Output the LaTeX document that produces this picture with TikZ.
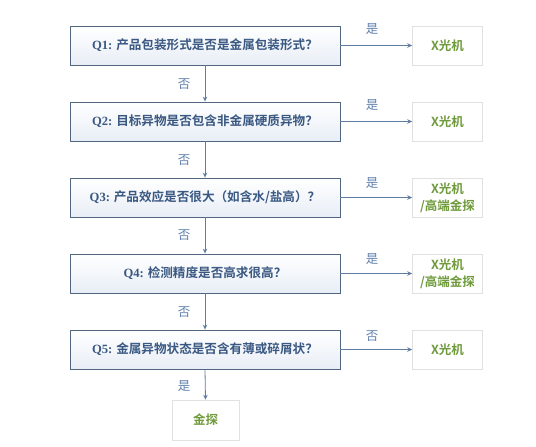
\documentclass[tikz,border=0pt]{standalone}
\usepackage{fontspec}
\setmainfont{Noto Sans CJK SC}
\newfontfamily\cjkb{Noto Sans CJK SC Bold}
\newfontfamily\cjkr{Noto Sans CJK SC}
\newfontfamily\qlat{Liberation Serif}
\usetikzlibrary{arrows.meta}
\definecolor{qtext}{RGB}{58,88,130}
\definecolor{qborder}{RGB}{82,102,128}
\definecolor{qfill}{RGB}{232,238,246}
\definecolor{arr}{RGB}{95,125,160}
\definecolor{lab}{RGB}{95,128,172}
\definecolor{ans}{RGB}{112,155,60}
\definecolor{aborder}{RGB}{225,225,225}
\tikzset{
  qbox/.style={draw=qborder, line width=0.8pt, top color=white, bottom color=qfill,
    minimum width=270pt, minimum height=39pt, inner sep=0pt, text=qtext,
    font=\fontsize{12.6}{14}\selectfont\cjkb},
  abox/.style={draw=aborder, line width=0.6pt, fill=white, minimum width=70pt, minimum height=39pt,
    inner sep=0pt, text=ans, align=center, font=\fontsize{12.5}{17}\selectfont\cjkb},
  conn/.style={draw=arr, line width=0.8pt, -{Stealth[length=5pt,width=4.5pt]}},
  lbl/.style={text=lab, font=\fontsize{12.5}{14}\selectfont\cjkr, inner sep=0pt}
}
\begin{document}
\begin{tikzpicture}[x=1pt,y=-1pt]
\useasboundingbox (0,0) rectangle (536,447);
\node[qbox] (q1) at (205,45.5) {{\qlat\bfseries Q1:} 产品包装形式是否是金属包装形式？};
\node[qbox] (q2) at (205,121.5) {{\qlat\bfseries Q2:} 目标异物是否包含非金属硬质异物？};
\node[qbox] (q3) at (205,197.5) {{\qlat\bfseries Q3:} 产品效应是否很大（如含水/盐高）？};
\node[qbox] (q4) at (205,273.5) {{\qlat\bfseries Q4:} 检测精度是否高求很高？};
\node[qbox] (q5) at (205,349.5) {{\qlat\bfseries Q5:} 金属异物状态是否含有薄或碎屑状？};
\node[abox] (a1) at (447.5,45.5) {X光机};
\node[abox] (a2) at (447.5,121.5) {X光机};
\node[abox] (a3) at (447.5,197.5) {X光机\\/高端金探};
\node[abox] (a4) at (447.5,273.5) {X光机\\/高端金探};
\node[abox] (a5) at (447.5,349.5) {X光机};
\node[abox, minimum width=67pt, minimum height=40pt] (a6) at (205.5,420) {金探};
\foreach \i in {1,...,5} { \draw[conn] (q\i.east) -- (a\i.west); }
\draw[conn] (q1.south) -- (q2.north);
\draw[conn] (q2.south) -- (q3.north);
\draw[conn] (q3.south) -- (q4.north);
\draw[conn] (q4.south) -- (q5.north);
\draw[conn] (q5.south) -- (a6.north);
\node[lbl] (y1) at (372,29) {是};
\node[lbl] (y2) at (372,105) {是};
\node[lbl] (y3) at (372,183) {是};
\node[lbl] (y4) at (372,259) {是};
\node[lbl] (n5) at (372,336) {否};
\node[lbl] (n1) at (184,84) {否};
\node[lbl] (n2) at (184,160) {否};
\node[lbl] (n3) at (184,235.5) {否};
\node[lbl] (n4) at (184,312) {否};
\node[lbl] (y5) at (184,386) {是};
\end{tikzpicture}
\end{document}
